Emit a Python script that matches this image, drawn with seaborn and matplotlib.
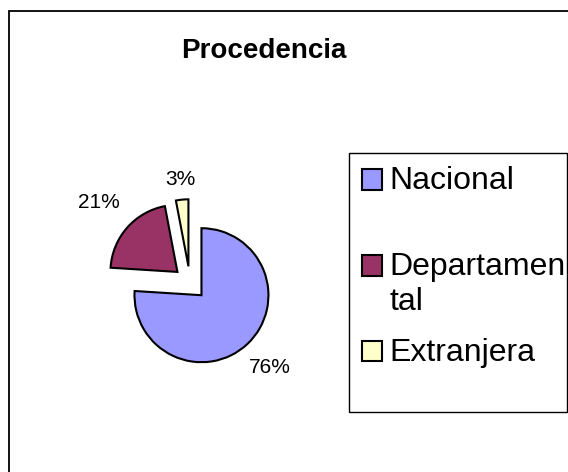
import matplotlib
matplotlib.use('Agg')
import matplotlib.pyplot as plt
from matplotlib.patches import Rectangle
from matplotlib.legend_handler import HandlerPatch
import seaborn as sns
import numpy as np

# Data
categories = ['Nacional', 'Departamental', 'Extranjera']
legend_labels = ['Nacional\n ', 'Departamen\ntal', 'Extranjera\n ']
percentages = [76, 21, 3]
colors = ['#9999FF', '#993366', '#FFFFCC']

sns.set_style('white')
plt.rcParams['font.family'] = ['Liberation Sans', 'DejaVu Sans']
plt.rcParams['text.color'] = 'black'

W, H = 568, 472
fig = plt.figure(figsize=(W / 100, H / 100), dpi=100)

# outer chart border (runs off the right and bottom edges)
fig.patches.append(Rectangle((9 / W, -0.05), 1.1, 1 - 11 / H + 0.05,
                             transform=fig.transFigure, fill=False,
                             edgecolor='black', linewidth=1.3))

fig.text(264 / W, 1 - 58 / H, 'Procedencia', ha='center', va='baseline',
         fontsize=20, fontweight='bold', color='black')

# Pie
ax = fig.add_axes([50 / W, 1 - 423 / H, 280 / W, 280 / H])
wedges, texts, autotexts = ax.pie(
    percentages, colors=colors, startangle=90, counterclock=False,
    explode=[0.25] * 3, autopct='%1.0f%%', pctdistance=1.48,
    wedgeprops=dict(edgecolor='black', linewidth=1.5),
    textprops=dict(fontsize=15, color='black'))
ax.set_xlim(-2.09, 2.09)
ax.set_ylim(-2.09, 2.09)
ax.axis('off')

# percentage labels placed like Excel's best fit
label_dist = [1.48, 1.56, 1.30]
for w, t, d in zip(wedges, autotexts, label_dist):
    ang = np.deg2rad((w.theta1 + w.theta2) / 2)
    cx, cy = w.center
    t.set_position((cx + d * np.cos(ang), cy + d * np.sin(ang)))
    t.set_ha('center')
    t.set_va('center')

# Legend
fs = 23
lsp = 1.22


def top_square(legend, orig_handle, xdescent, ydescent, width, height, fontsize):
    # square sits next to the first line of the label
    return Rectangle((-xdescent, -ydescent + 0.5 * fs * lsp), width, height)


fig.patches.append(Rectangle((349 / W, 1 - 412 / H), 218 / W, 259 / H,
                             transform=fig.transFigure, fill=False,
                             edgecolor='black', linewidth=1.0))
leg = fig.legend(wedges, legend_labels, loc='upper left',
                 bbox_to_anchor=(362 / W, 1 - 166 / H), frameon=False,
                 fontsize=fs, handlelength=0.63, handleheight=0.63,
                 handletextpad=0.22, labelspacing=0.65,
                 borderaxespad=0, borderpad=0,
                 handler_map={matplotlib.patches.Wedge: HandlerPatch(patch_func=top_square)})
for t in leg.get_texts():
    t.set_linespacing(lsp)
    t.set_color('black')

fig.savefig('out.png', dpi=100)
